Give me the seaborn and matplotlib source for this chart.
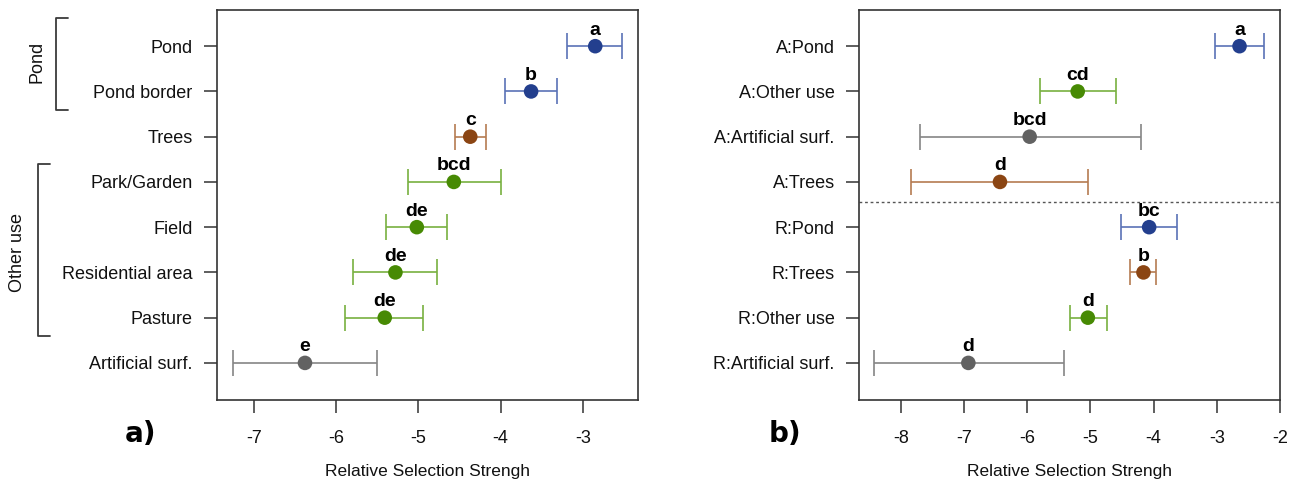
import numpy as np
import pandas as pd
import matplotlib
matplotlib.use("Agg")
import matplotlib.pyplot as plt
import seaborn as sns
from matplotlib.lines import Line2D

# data panel a)
habitat_a = ["Pond", "Pond border", "Trees", "Park/Garden", "Field",
             "Residential area", "Pasture", "Artificial surf."]
mean_a = [-2.85, -3.63, -4.37, -4.57, -5.02, -5.28, -5.41, -6.38]
lo_a = [-3.19, -3.95, -4.55, -5.13, -5.39, -5.79, -5.89, -7.25]
hi_a = [-2.52, -3.31, -4.18, -4.00, -4.65, -4.77, -4.94, -5.51]
letters_a = ["a", "b", "c", "bcd", "de", "de", "de", "e"]
group_a = ["Pond", "Pond", "Trees", "Other use", "Other use", "Other use", "Other use", "Artificial"]

# data panel b)
habitat_b = ["A:Pond", "A:Other use", "A:Artificial surf.", "A:Trees",
             "R:Pond", "R:Trees", "R:Other use", "R:Artificial surf."]
mean_b = [-2.64, -5.20, -5.96, -6.43, -4.07, -4.16, -5.04, -6.93]
lo_b = [-3.03, -5.80, -7.70, -7.83, -4.52, -4.37, -5.32, -8.42]
hi_b = [-2.25, -4.60, -4.20, -5.03, -3.63, -3.96, -4.74, -5.42]
letters_b = ["a", "cd", "bcd", "d", "bc", "b", "d", "d"]
group_b = ["Pond", "Other use", "Artificial", "Trees", "Pond", "Trees", "Other use", "Artificial"]

dot_col = {"Pond": "#233f8e", "Trees": "#8b4513", "Other use": "#478a04", "Artificial": "#626262"}
bar_col = {"Pond": "#5a72b6", "Trees": "#b57b52", "Other use": "#78b040", "Artificial": "#858585"}

sns.set_theme(style="white")
plt.rcParams["font.family"] = ["Liberation Sans", "DejaVu Sans"]

W, H = 1301, 488
fig = plt.figure(figsize=(W / 100, H / 100), dpi=100)


def px(x0, y0, x1, y1):
    return [x0 / W, 1 - y1 / H, (x1 - x0) / W, (y1 - y0) / H]


def panel(ax, labels, mean, lo, hi, letters, groups, xlim, xticks):
    n = len(labels)
    df = pd.DataFrame({"pos": np.arange(n), "mean": mean, "lo": lo, "hi": hi,
                       "group": groups, "letter": letters})
    for _, r in df.iterrows():
        ax.errorbar(r["mean"], r["pos"], xerr=[[r["mean"] - r["lo"]], [r["hi"] - r["mean"]]],
                    fmt="none", ecolor=bar_col[r["group"]], elinewidth=1.2,
                    capsize=9.2, capthick=1.2, zorder=2)
    sns.scatterplot(data=df, x="mean", y="pos", hue="group", palette=dot_col,
                    s=110, edgecolor="none", legend=False, ax=ax, zorder=3)
    for _, r in df.iterrows():
        ax.annotate(r["letter"], (r["mean"], r["pos"]), xytext=(0, 5.5),
                    textcoords="offset points", ha="center", va="bottom",
                    fontsize=14, fontweight="bold", color="black")
    ax.set_xlim(*xlim)
    ax.set_ylim(7.82, -0.8)
    ax.set_yticks(np.arange(n))
    ax.set_yticklabels(labels)
    ax.set_xticks(xticks)
    ax.set_xticklabels([f"{t:g}" for t in xticks])
    ax.tick_params(axis="both", which="both", direction="out", length=9.5,
                   width=1.1, color="#333333", labelsize=13, labelcolor="#111111",
                   bottom=True, left=True)
    ax.tick_params(axis="x", pad=12)
    ax.tick_params(axis="y", pad=8)
    for s in ax.spines.values():
        s.set_visible(True)
        s.set_color("#333333")
        s.set_linewidth(1.2)
    ax.set_xlabel("Relative Selection Strengh", fontsize=12.5, color="#111111")
    ax.set_ylabel("")
    ax.xaxis.set_label_coords(0.5, -0.163)
    ax.xaxis.label.set_va("top")


ax1 = fig.add_axes(px(217, 10, 638, 400))
panel(ax1, habitat_a, mean_a, lo_a, hi_a, letters_a, group_a, (-7.45, -2.33), [-7, -6, -5, -4, -3])

ax2 = fig.add_axes(px(859, 10, 1280, 400))
panel(ax2, habitat_b, mean_b, lo_b, hi_b, letters_b, group_b, (-8.66, -2.0), [-8, -7, -6, -5, -4, -3, -2])
ax2.axhline(3.44, color="#555555", lw=1.0, ls=(0, (2, 2)), zorder=1)

# brackets for groups in panel a)
def bracket(x, y0, y1, tick, label, lx, ly):
    xs = [x + tick, x, x, x + tick]
    ys = [y0, y0, y1, y1]
    fig.add_artist(Line2D([v / W for v in xs], [1 - v / H for v in ys],
                          color="#3a3a3a", lw=1.3, transform=fig.transFigure))
    fig.text(lx / W, 1 - ly / H, label, rotation=90, ha="center", va="center",
             fontsize=13, color="#111111")

bracket(56, 18, 110, 12, "Pond", 37, 62)
bracket(38, 164, 336, 12, "Other use", 17, 253)

fig.text(140 / W, 1 - 434 / H, "a)", ha="center", va="center", fontsize=20,
         fontweight="bold", family="DejaVu Sans", color="black")
fig.text(785 / W, 1 - 434 / H, "b)", ha="center", va="center", fontsize=20,
         fontweight="bold", family="DejaVu Sans", color="black")

fig.savefig("out.png", dpi=100)
